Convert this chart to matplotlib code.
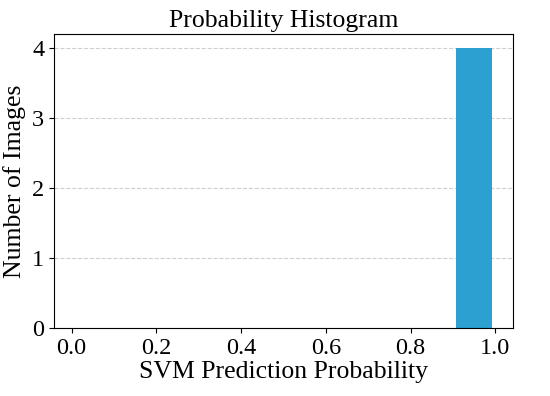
import matplotlib
matplotlib.use("Agg")
import matplotlib.pyplot as plt
import numpy as np

plt.rcParams['font.family'] = ['Liberation Serif', 'DejaVu Serif']

bin_edges = [0.0, 0.1, 0.2, 0.3, 0.4, 0.5, 0.6, 0.7, 0.8, 0.9, 1.0]
counts = [0, 0, 0, 0, 0, 0, 0, 0, 0, 4]

centers = [(a + b) / 2 for a, b in zip(bin_edges[:-1], bin_edges[1:])]

fig, ax = plt.subplots(figsize=(5.5, 3.96), dpi=100)
fig.subplots_adjust(left=0.098, right=0.933, top=0.914, bottom=0.172)
ax.hist(centers, bins=bin_edges, weights=counts, rwidth=0.85, color='#2ca0d0')
ax.set_title('Probability Histogram', fontsize=18.5, pad=5)
ax.set_xlabel('SVM Prediction Probability', fontsize=18.5, labelpad=2)
ax.set_ylabel('Number of Images', fontsize=18.5, labelpad=4)
ax.tick_params(labelsize=17.5)
ax.yaxis.grid(True, linestyle='--', alpha=0.6)
ax.set_axisbelow(True)
fig.savefig('out.png', dpi=100)
